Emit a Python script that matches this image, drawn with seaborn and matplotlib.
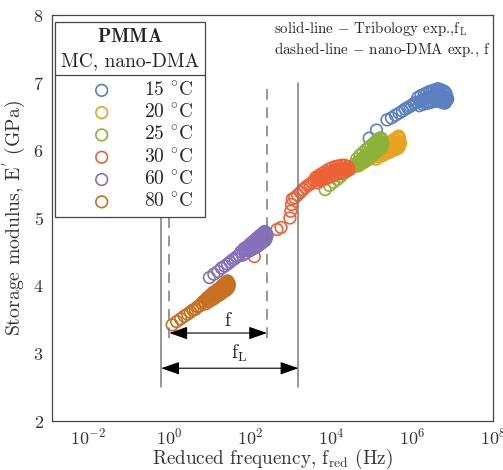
import numpy as np
import pandas as pd
import matplotlib.pyplot as plt
import seaborn as sns
from matplotlib.lines import Line2D
from matplotlib.ticker import LogLocator, MultipleLocator, NullFormatter

# temperatures and colours
temps = ['15', '20', '25', '30', '60', '80']
colors = ['#5b7fc0', '#e8a322', '#8cb23a', '#ee6136', '#8571bb', '#c7701f']

# log10 of reduced frequency (Hz) and storage modulus (GPa)
logf_15 = [4.94, 5.12, 5.38, 5.49, 5.59, 5.68, 5.76, 5.83, 5.89, 5.95, 6.00, 6.05, 6.10,
           6.14, 6.18, 6.22, 6.26, 6.30, 6.34, 6.37, 6.40, 6.43, 6.46, 6.49, 6.52, 6.55,
           6.58, 6.60, 6.62, 6.64, 6.66, 6.68, 6.70, 6.72, 6.74, 6.76, 6.78, 6.80, 6.82,
           6.84, 6.86,
           6.20, 6.24, 6.28, 6.32, 6.355, 6.385, 6.415, 6.445, 6.475, 6.505, 6.535, 6.565,
           6.59, 6.61, 6.63, 6.65, 6.67, 6.69, 6.71, 6.73, 6.75, 6.77, 6.79, 6.81, 6.83,
           6.85, 6.87, 6.88]
E_15 = [6.18, 6.30, 6.45, 6.48, 6.52, 6.55, 6.58, 6.61, 6.63, 6.65, 6.67, 6.69, 6.71,
        6.78, 6.66, 6.81, 6.68, 6.83, 6.69, 6.85, 6.70, 6.87, 6.71, 6.88, 6.72, 6.89,
        6.73, 6.90, 6.73, 6.91, 6.74, 6.90, 6.72, 6.89, 6.71, 6.88, 6.70, 6.87, 6.70,
        6.84, 6.74,
        6.72, 6.74, 6.75, 6.76, 6.77, 6.78, 6.78, 6.79, 6.79, 6.80, 6.80, 6.81,
        6.81, 6.81, 6.82, 6.82, 6.82, 6.82, 6.81, 6.81, 6.80, 6.80, 6.79, 6.79, 6.78,
        6.78, 6.77, 6.76]

logf_20 = [4.28, 4.39, 4.49, 4.58, 4.66, 4.73, 4.79, 4.85, 4.91, 4.96, 5.01, 5.06, 5.10,
           5.14, 5.18, 5.22, 5.26, 5.29, 5.32, 5.35, 5.38, 5.41, 5.44, 5.47, 5.49, 5.51,
           5.53, 5.55, 5.57, 5.59, 5.61, 5.63, 5.64, 5.65, 5.66, 5.67, 5.68, 5.69,
           5.12, 5.16, 5.20, 5.24, 5.275, 5.305, 5.335, 5.365, 5.395, 5.425, 5.455, 5.48,
           5.50, 5.52, 5.54, 5.56, 5.58, 5.60, 5.62, 5.635, 5.645, 5.655, 5.665, 5.675,
           5.685, 5.695, 5.705, 5.715]
E_20 = [5.66, 5.70, 5.73, 5.76, 5.78, 5.80, 5.82, 5.84, 5.86, 5.88, 5.89, 5.96, 5.87,
        6.00, 5.90, 6.03, 5.92, 6.06, 5.94, 6.08, 5.96, 6.10, 5.97, 6.12, 5.99, 6.14,
        6.00, 6.16, 6.01, 6.17, 6.02, 6.19, 6.03, 6.20, 6.04, 6.21, 6.05, 6.18,
        5.93, 5.94, 5.95, 5.97, 5.98, 5.99, 6.00, 6.01, 6.02, 6.03, 6.04, 6.04,
        6.05, 6.06, 6.06, 6.07, 6.08, 6.08, 6.09, 6.09, 6.10, 6.10, 6.10, 6.11,
        6.11, 6.11, 6.12, 6.10]

logf_25 = [3.85, 3.96, 4.06, 4.15, 4.23, 4.30, 4.36, 4.42, 4.48, 4.53, 4.58, 4.63, 4.67,
           4.71, 4.75, 4.79, 4.83, 4.86, 4.89, 4.92, 4.95, 4.98, 5.01, 5.04, 5.06, 5.08,
           5.10, 5.12, 5.14, 5.16, 5.18, 5.20, 5.21, 5.22, 5.23, 5.24, 5.25, 5.26,
           4.61, 4.65, 4.69, 4.73, 4.77, 4.81, 4.845, 4.875, 4.905, 4.935, 4.965, 4.995,
           5.025, 5.05, 5.07, 5.09, 5.11, 5.13, 5.15, 5.17, 5.19, 5.205, 5.215, 5.225,
           5.235, 5.245, 5.255, 5.27]
E_25 = [5.42, 5.48, 5.53, 5.57, 5.61, 5.65, 5.68, 5.71, 5.74, 5.76, 5.79, 5.87, 5.77,
        5.93, 5.80, 5.97, 5.83, 6.01, 5.86, 6.04, 5.89, 6.07, 5.92, 6.10, 5.95, 6.12,
        5.97, 6.14, 5.99, 6.16, 6.01, 6.18, 6.02, 6.18, 6.03, 6.18, 6.04, 6.16,
        5.80, 5.82, 5.84, 5.86, 5.88, 5.90, 5.92, 5.93, 5.95, 5.96, 5.98, 5.99,
        6.01, 6.02, 6.03, 6.04, 6.05, 6.06, 6.07, 6.08, 6.09, 6.10, 6.10, 6.11,
        6.11, 6.12, 6.12, 6.10]

logf_30 = [2.10, 2.66, 2.76, 2.98, 3.00, 3.02, 3.04, 3.10, 3.17, 3.24, 3.30, 3.36, 3.42,
           3.48, 3.53, 3.58, 3.62, 3.66, 3.70, 3.74, 3.78, 3.82, 3.86, 3.90, 3.94, 3.98,
           4.02, 4.06, 4.10, 4.14, 4.18, 4.22, 4.26, 4.30, 4.34, 4.38, 4.42,
           3.64, 3.68, 3.72, 3.76, 3.80, 3.84, 3.88, 3.92, 3.96, 4.00, 4.04, 4.08,
           4.12, 4.16, 4.20, 4.24, 4.28, 4.32, 4.36, 4.40, 4.44]
E_30 = [4.43, 4.83, 4.86, 5.00, 5.10, 5.20, 5.28, 5.30, 5.34, 5.38, 5.42, 5.45, 5.48,
        5.50, 5.53, 5.55, 5.60, 5.52, 5.63, 5.55, 5.66, 5.57, 5.69, 5.59, 5.72, 5.61,
        5.74, 5.63, 5.76, 5.65, 5.77, 5.66, 5.78, 5.68, 5.78, 5.70, 5.76,
        5.56, 5.58, 5.60, 5.61, 5.63, 5.64, 5.65, 5.66, 5.67, 5.68, 5.69, 5.70,
        5.70, 5.71, 5.72, 5.72, 5.73, 5.73, 5.73, 5.72, 5.71]

logf_60 = [0.99, 1.10, 1.20, 1.29, 1.37, 1.44, 1.50, 1.56, 1.62, 1.67, 1.72, 1.77, 1.81,
           1.85, 1.89, 1.93, 1.97, 2.00, 2.03, 2.06, 2.09, 2.12, 2.15, 2.18, 2.20, 2.22,
           2.24, 2.26, 2.28, 2.30, 2.32, 2.34, 2.35, 2.36, 2.37, 2.38, 2.39, 2.40,
           1.87, 1.91, 1.95, 1.99, 2.02, 2.05, 2.08, 2.11, 2.14, 2.17, 2.19, 2.21,
           2.23, 2.25, 2.27, 2.29, 2.31, 2.33, 2.345, 2.355, 2.365, 2.375, 2.385, 2.395,
           2.405, 2.415]
E_60 = [4.12, 4.17, 4.21, 4.26, 4.29, 4.32, 4.35, 4.38, 4.40, 4.43, 4.45, 4.50, 4.45,
        4.55, 4.48, 4.58, 4.51, 4.62, 4.53, 4.65, 4.55, 4.68, 4.57, 4.71, 4.59, 4.73,
        4.61, 4.75, 4.63, 4.77, 4.65, 4.79, 4.66, 4.80, 4.67, 4.78, 4.69, 4.77,
        4.52, 4.53, 4.55, 4.57, 4.58, 4.60, 4.61, 4.62, 4.64, 4.65, 4.66, 4.67,
        4.68, 4.69, 4.69, 4.70, 4.71, 4.72, 4.73, 4.73, 4.74, 4.74, 4.75, 4.75,
        4.76, 4.74]

logf_80 = [0.07, 0.18, 0.28, 0.37, 0.45, 0.52, 0.58, 0.64, 0.70, 0.75, 0.80, 0.85, 0.89,
           0.93, 0.97, 1.01, 1.05, 1.08, 1.11, 1.14, 1.17, 1.20, 1.23, 1.26, 1.28, 1.30,
           1.32, 1.34, 1.36, 1.38, 1.40, 1.42, 1.43, 1.44, 1.45, 1.46, 1.47, 1.48,
           0.87, 0.91, 0.95, 0.99, 1.03, 1.065, 1.095, 1.125, 1.155, 1.185, 1.215, 1.245,
           1.27, 1.29, 1.31, 1.33, 1.35, 1.37, 1.39, 1.41, 1.425, 1.435, 1.445, 1.455,
           1.465, 1.475]
E_80 = [3.42, 3.47, 3.51, 3.55, 3.58, 3.61, 3.64, 3.65, 3.69, 3.70, 3.74, 3.77, 3.73,
        3.82, 3.76, 3.86, 3.79, 3.90, 3.81, 3.92, 3.84, 3.95, 3.86, 3.97, 3.88, 4.00,
        3.90, 4.01, 3.92, 4.04, 3.93, 4.06, 3.95, 4.07, 3.96, 4.05, 3.98, 4.03,
        3.76, 3.79, 3.80, 3.82, 3.84, 3.85, 3.87, 3.88, 3.89, 3.91, 3.92, 3.93,
        3.95, 3.96, 3.97, 3.98, 3.99, 3.99, 4.00, 4.01, 4.02, 4.02, 4.01, 4.00,
        4.02, 4.00]

logf_all = [logf_15, logf_20, logf_25, logf_30, logf_60, logf_80]
E_all = [E_15, E_20, E_25, E_30, E_60, E_80]

# frequency windows (Hz): nano-DMA f and tribology f_L
f_dma = [1.0, 260.0]
f_trib = [0.63, 1550.0]

rows = []
for T, lf, E in zip(temps, logf_all, E_all):
    for a, b in zip(lf, E):
        rows.append({'T': T, 'f': 10 ** a, 'E': b})
df = pd.DataFrame(rows)

sns.set_style('white')
plt.rcParams['font.family'] = ['cmr10', 'DejaVu Serif']
plt.rcParams['mathtext.fontset'] = 'cm'
plt.rcParams['axes.formatter.use_mathtext'] = True
plt.rcParams['axes.unicode_minus'] = False

fig = plt.figure(figsize=(5.03, 4.70), dpi=100)
ax = fig.add_axes([52 / 503, 1 - 421 / 470, 441 / 503, 406 / 470])

for T, c in zip(temps, colors):
    sub = df[df['T'] == T]
    sns.scatterplot(data=sub, x='f', y='E', ax=ax, color=c, facecolor='none',
                    edgecolor=c, s=70, linewidth=1.2, label=T + r' $^{\circ}$C')

ax.set_xscale('log')
ax.set_xlim(10 ** -2.9, 1e8)
ax.set_ylim(2, 8)

# vertical markers
gray = '#7a7a7a'
for x in f_trib:
    ax.plot([x, x], [2.5, 7.0], color=gray, lw=1.1, zorder=1)
for x in f_dma:
    ax.plot([x, x], [3.22, 6.97], color=gray, lw=1.1, ls=(0, (7, 5)), zorder=1)

arr = dict(arrowstyle='<|-|>,head_length=0.8,head_width=0.28', color='k', lw=0.8,
           shrinkA=0, shrinkB=0, mutation_scale=14)
ax.annotate('', xy=(f_dma[1], 3.3), xytext=(f_dma[0], 3.3), arrowprops=arr)
ax.annotate('', xy=(f_trib[1], 2.78), xytext=(f_trib[0], 2.78), arrowprops=arr)
ax.text(27, 3.47, 'f', fontsize=14, ha='center', va='center')
ax.text(54, 3.0, r'f$_{\rm L}$', fontsize=14, ha='center', va='center')

ax.text(0.503, 0.988, 'solid-line $-$ Tribology exp.,f$_{\\rm L}$\n'
        'dashed-line $-$ nano-DMA exp., f', transform=ax.transAxes,
        fontsize=10.8, ha='left', va='top', linespacing=1.25)

ax.set_xticks([1e-2, 1e0, 1e2, 1e4, 1e6, 1e8])
ax.xaxis.set_minor_locator(LogLocator(base=10, subs=np.arange(1, 10), numticks=40))
ax.xaxis.set_minor_formatter(NullFormatter())
ax.yaxis.set_major_locator(MultipleLocator(1))
ax.yaxis.set_minor_locator(MultipleLocator(0.2))
ax.tick_params(which='both', direction='in', top=False, right=False,
               labelsize=13, colors='#333333', labelcolor='#333333')
ax.tick_params(which='major', length=4, width=0.8, pad=6)
ax.tick_params(axis='x', which='major', pad=4)
ax.tick_params(which='minor', length=2.2, width=0.6)
for s in ax.spines.values():
    s.set_color('#444444')
    s.set_linewidth(0.9)
    s.set_visible(True)

ax.set_xlabel(r'Reduced frequency, f$_{\rm red}$ (Hz)', fontsize=13.8, color='#333333', labelpad=0)
ax.set_ylabel(r"Storage modulus, E$^{'}$ (GPa)", fontsize=14.2, color='#333333', labelpad=4)

leg = ax.legend(title='$\\mathbf{PMMA}$\nMC, nano-DMA', loc='upper left',
                bbox_to_anchor=(0.007, 0.983), borderaxespad=0, fontsize=14,
                title_fontsize=14, handlelength=3.6, handletextpad=0.36,
                labelspacing=0.2, borderpad=0.3, fancybox=False,
                edgecolor='#444444', framealpha=1)
leg.get_frame().set_linewidth(0.9)
leg.get_title().set_multialignment('center')
leg.get_title().set_linespacing(1.45)
leg.get_title().set_color('#222222')
# extra room between the title block and the entries
leg._legend_box.sep = 8

# separator under the legend title
fig.canvas.draw()
r = fig.canvas.get_renderer()
fb = leg.get_frame().get_window_extent(r)
tb = leg.get_title().get_window_extent(r)
eb = leg.get_texts()[0].get_window_extent(r)
yl = (tb.y0 + eb.y1) / 2
fig.add_artist(Line2D([fb.x0, fb.x1], [yl, yl], transform=None, color='#444444', lw=0.9))

fig.savefig('out.png', dpi=100)
